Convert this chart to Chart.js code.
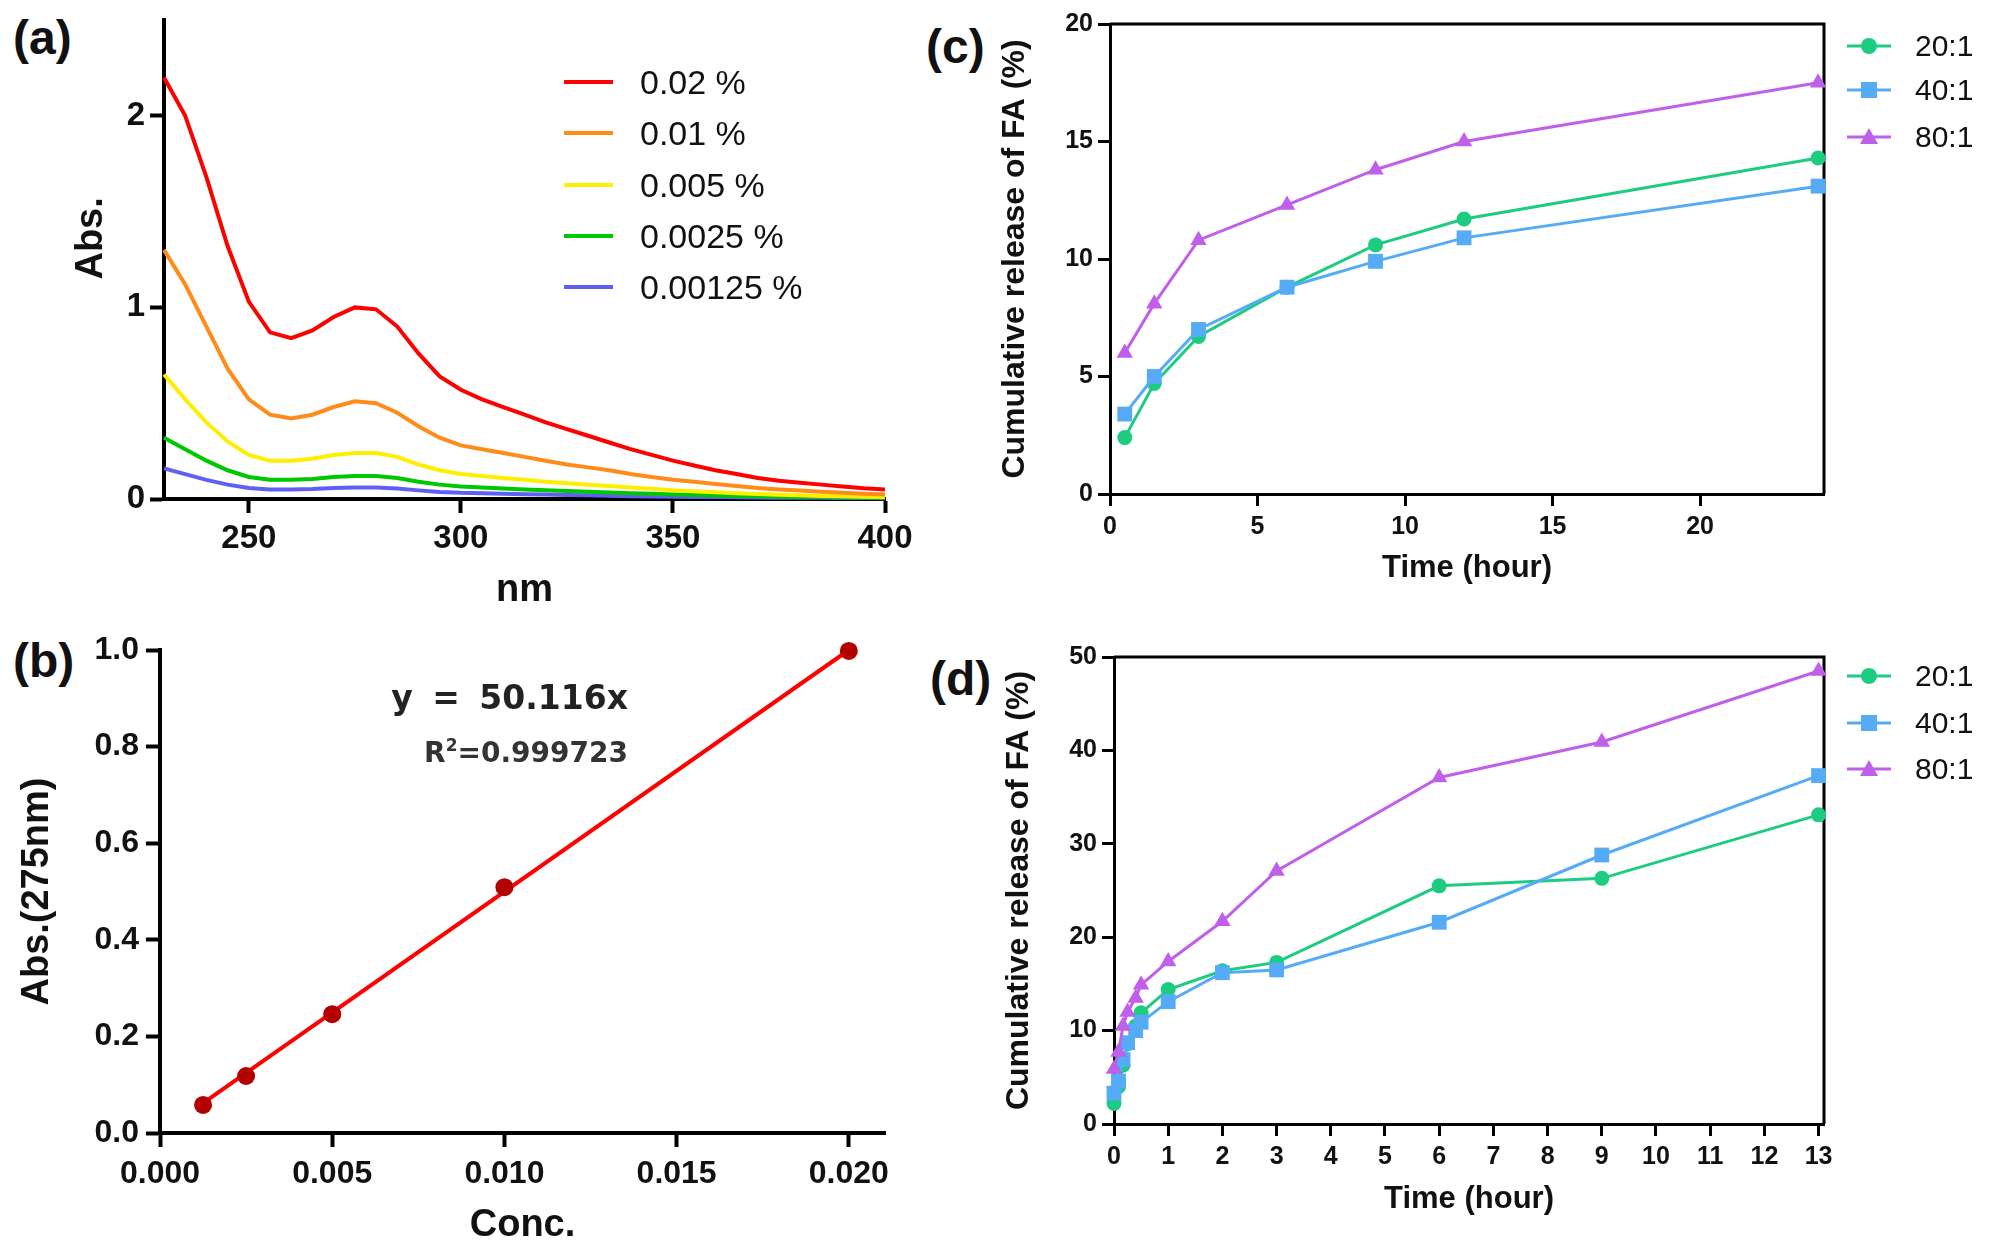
<!DOCTYPE html>
<html>
<head>
<meta charset="utf-8">
<script src="https://cdn.jsdelivr.net/npm/chart.js@4.4.0/dist/chart.umd.min.js"></script>
<style>
  body { margin: 0; width: 1990px; height: 1254px; background: #fff; position: relative; overflow: hidden;
         font-family: "Liberation Sans", Arial, sans-serif; color: #111; }
  canvas { position: absolute; }
  .panel { position: absolute; font-size: 48px; font-weight: bold; line-height: 1; }
  .eq { position: absolute; font-family: "DejaVu Sans", Verdana, sans-serif; font-weight: bold; line-height: 1; white-space: nowrap; }
  .leg { position: absolute; display: flex; align-items: center; white-space: nowrap; }
</style>
</head>
<body>
<div class="panel" style="left:13px;top:14px">(a)</div>
<div class="panel" style="left:13px;top:637px">(b)</div>
<div class="panel" style="left:926px;top:23px">(c)</div>
<div class="panel" style="left:930px;top:655px">(d)</div>

<canvas id="chartA" width="851" height="623" style="left:69px;top:-10px"></canvas>
<canvas id="chartB" width="905" height="628" style="left:15px;top:620px"></canvas>
<canvas id="chartC" width="863" height="593" style="left:996px;top:-6px"></canvas>
<canvas id="chartD" width="859" height="591" style="left:1000px;top:627px"></canvas>

<div class="eq" style="right:1362px;top:681px;font-size:33px;word-spacing:8px;color:#222">y = 50.116x</div>
<div class="eq" style="right:1362px;top:737px;font-size:28px;color:#333">R<sup style="font-size:17px;vertical-align:11px">2</sup>=0.999723</div>

<div id="legendA"></div>
<div id="legendC"></div>
<div id="legendD"></div>

<script>
// (a) UV spectra
const wavelengths = [230, 235, 240, 245, 250, 255, 260, 265, 270, 275, 280, 285, 290, 295, 300, 305, 310,
  315, 320, 325, 330, 335, 340, 345, 350, 355, 360, 365, 370, 375, 380, 385, 390, 395, 400];
const abs002 = [2.20, 2.00, 1.68, 1.32, 1.03, 0.87, 0.84, 0.88, 0.95, 1.00, 0.99, 0.90, 0.76, 0.64, 0.57, 0.52, 0.48,
  0.44, 0.40, 0.365, 0.33, 0.295, 0.26, 0.23, 0.20, 0.175, 0.15, 0.13, 0.11, 0.095, 0.085, 0.075, 0.065, 0.056, 0.05];
const abs001 = [1.30, 1.12, 0.90, 0.68, 0.52, 0.44, 0.42, 0.44, 0.48, 0.51, 0.50, 0.45, 0.38, 0.32, 0.28, 0.26, 0.24,
  0.22, 0.20, 0.18, 0.165, 0.15, 0.13, 0.115, 0.10, 0.09, 0.078, 0.068, 0.058, 0.05, 0.044, 0.038, 0.032, 0.027, 0.023];
const abs0005 = [0.65, 0.52, 0.40, 0.30, 0.23, 0.20, 0.20, 0.21, 0.23, 0.24, 0.24, 0.22, 0.18, 0.15, 0.13, 0.12, 0.11,
  0.10, 0.09, 0.082, 0.075, 0.068, 0.06, 0.053, 0.046, 0.04, 0.035, 0.03, 0.026, 0.022, 0.019, 0.016, 0.014, 0.012, 0.01];
const abs00025 = [0.32, 0.26, 0.20, 0.15, 0.115, 0.10, 0.10, 0.105, 0.115, 0.12, 0.12, 0.11, 0.09, 0.075, 0.065, 0.06, 0.055,
  0.05, 0.046, 0.042, 0.038, 0.034, 0.03, 0.027, 0.024, 0.021, 0.018, 0.016, 0.014, 0.012, 0.011, 0.01, 0.009, 0.008, 0.007];
const abs000125 = [0.16, 0.13, 0.10, 0.075, 0.058, 0.05, 0.05, 0.052, 0.057, 0.06, 0.06, 0.055, 0.045, 0.037, 0.032, 0.03, 0.027,
  0.025, 0.023, 0.021, 0.019, 0.017, 0.015, 0.013, 0.012, 0.011, 0.01, 0.009, 0.008, 0.007, 0.006, 0.006, 0.005, 0.005, 0.004];
const spectraLabels = ['0.02 %', '0.01 %', '0.005 %', '0.0025 %', '0.00125 %'];
const spectraColors = ['#ff0000', '#ff8c1a', '#ffee00', '#00c800', '#5f5ff5'];
const spectra = [abs002, abs001, abs0005, abs00025, abs000125];

// (b) standard curve at 275 nm
const concValues = [0.00125, 0.0025, 0.005, 0.01, 0.02];
const absValues = [0.058, 0.118, 0.246, 0.509, 0.998];
const fitConc = [0.00125, 0.02];
const fitAbs = [0.062, 1.0];

// (c) release, 24 h
const timeC = [0.5, 1.5, 3, 6, 9, 12, 24];
const releaseC20 = [2.4, 4.7, 6.7, 8.8, 10.6, 11.7, 14.3];
const releaseC40 = [3.4, 5.0, 7.0, 8.8, 9.9, 10.9, 13.1];
const releaseC80 = [6.0, 8.1, 10.8, 12.3, 13.8, 15.0, 17.5];

// (d) release, 13 h
const timeD = [0, 0.083, 0.167, 0.25, 0.4, 0.5, 1, 2, 3, 6, 9, 13];
const releaseD20 = [2.2, 4.0, 6.3, 8.6, 10.5, 11.9, 14.4, 16.4, 17.3, 25.5, 26.3, 33.1];
const releaseD40 = [3.3, 4.6, 6.9, 8.7, 10.0, 10.9, 13.1, 16.2, 16.5, 21.6, 28.8, 37.3];
const releaseD80 = [5.9, 7.7, 10.5, 12.0, 13.5, 14.9, 17.4, 21.7, 27.1, 37.1, 40.9, 48.5];

const ratioLabels = ['20:1', '40:1', '80:1'];
const ratioColors = ['#1dcc80', '#56abf7', '#bf5fea'];
const ratioStyles = ['circle', 'rect', 'triangle'];
const ratioRadius = [7.5, 10.5, 9.5];

const FONT = '"Liberation Sans", Arial, sans-serif';
Chart.defaults.font.family = FONT;
Chart.defaults.color = '#111';

const toXY = (xs, ys) => xs.map((x, i) => ({ x: x, y: ys[i] }));

function axis(o) {
  const horizontal = o.position === 'bottom';
  return {
    type: 'linear',
    position: o.position,
    min: o.min,
    max: o.max,
    border: { color: '#000', width: o.bw },
    grid: { drawOnChartArea: false, drawTicks: true, tickLength: o.tl, tickWidth: o.bw, tickColor: '#000' },
    ticks: {
      stepSize: o.step, padding: o.pad, color: '#111', autoSkip: false, maxRotation: 0, includeBounds: false,
      font: { size: o.fs, weight: 'bold' },
      callback: o.fmt || (v => v)
    },
    title: { display: true, text: o.title, color: '#111', padding: 0, font: { size: o.ts, weight: 'bold' } },
    afterBuildTicks: s => { s.ticks = s.ticks.filter(t => t.value >= o.first - 1e-9 && t.value <= o.last + 1e-9); },
    afterFit: s => { if (horizontal) s.height = o.size; else s.width = o.size; }
  };
}

function baseOptions(scales) {
  return {
    responsive: false,
    animation: false,
    devicePixelRatio: 1,
    layout: { padding: { top: 30, right: 35, left: 0, bottom: 0 } },
    plugins: { legend: { display: false }, tooltip: { enabled: false } },
    scales: scales
  };
}

// top and right sides of the box in (c) and (d)
const framePlugin = {
  id: 'frame',
  beforeDatasetsDraw(chart) {
    const { ctx, chartArea: a } = chart;
    ctx.save();
    ctx.strokeStyle = '#000';
    ctx.lineWidth = 3;
    ctx.beginPath();
    ctx.moveTo(a.left, a.top);
    ctx.lineTo(a.right, a.top);
    ctx.lineTo(a.right, a.bottom);
    ctx.stroke();
    ctx.restore();
  }
};

// (a)
new Chart(document.getElementById('chartA'), {
  type: 'line',
  data: {
    datasets: spectra.map((arr, i) => ({
      label: spectraLabels[i],
      data: toXY(wavelengths, arr),
      borderColor: spectraColors[i],
      borderWidth: 4,
      pointRadius: 0,
      tension: 0,
      clip: false
    }))
  },
  options: baseOptions({
    x: axis({ position: 'bottom', min: 230, max: 400, step: 50, first: 250, last: 400, bw: 4, tl: 14, pad: 6, fs: 33,
              title: 'nm', ts: 38, size: 114 }),
    y: axis({ position: 'left', min: 0, max: 2.5, step: 1, first: 0, last: 2, bw: 4, tl: 14, pad: 5, fs: 33,
              title: '\u00a0\u00a0\u00a0\u00a0Abs.', ts: 38, size: 95 })
  })
});

// (b)
new Chart(document.getElementById('chartB'), {
  type: 'line',
  data: {
    datasets: [
      { data: toXY(concValues, absValues), showLine: false, pointRadius: 9, pointBackgroundColor: '#b30000',
        pointBorderWidth: 0, order: 0, clip: false },
      { data: toXY(fitConc, fitAbs), borderColor: '#ff0000', borderWidth: 4, pointRadius: 0, order: 1, clip: false }
    ]
  },
  options: baseOptions({
    x: axis({ position: 'bottom', min: 0, max: 0.02105, step: 0.005, first: 0, last: 0.02, bw: 4, tl: 14, pad: 8, fs: 32,
              title: 'Conc.', ts: 38, size: 115, fmt: v => v.toFixed(3) }),
    y: axis({ position: 'left', min: 0, max: 1, step: 0.2, first: 0, last: 1, bw: 4, tl: 14, pad: 7, fs: 32,
              title: 'Abs.(275nm)', ts: 38, size: 145, fmt: v => v.toFixed(1) })
  })
});

function releaseDatasets(xs, series) {
  return series.map((ys, i) => ({
    label: ratioLabels[i],
    data: toXY(xs, ys),
    borderColor: ratioColors[i],
    backgroundColor: ratioColors[i],
    pointBackgroundColor: ratioColors[i],
    pointBorderWidth: 0,
    pointStyle: ratioStyles[i],
    pointRadius: ratioRadius[i],
    borderWidth: 3,
    tension: 0,
    order: 2 - i,
    clip: false
  }));
}

// (c)
new Chart(document.getElementById('chartC'), {
  type: 'line',
  data: { datasets: releaseDatasets(timeC, [releaseC20, releaseC40, releaseC80]) },
  options: baseOptions({
    x: axis({ position: 'bottom', min: 0, max: 24.2, step: 5, first: 0, last: 20, bw: 3, tl: 12, pad: 6, fs: 25,
              title: 'Time (hour)', ts: 31, size: 93 }),
    y: axis({ position: 'left', min: 0, max: 20, step: 5, first: 0, last: 20, bw: 3, tl: 12, pad: 5, fs: 25,
              title: 'Cumulative release of FA (%)', ts: 32, size: 114 })
  }),
  plugins: [framePlugin]
});

// (d)
new Chart(document.getElementById('chartD'), {
  type: 'line',
  data: { datasets: releaseDatasets(timeD, [releaseD20, releaseD40, releaseD80]) },
  options: baseOptions({
    x: axis({ position: 'bottom', min: 0, max: 13.1, step: 1, first: 0, last: 13, bw: 3, tl: 12, pad: 6, fs: 25,
              title: 'Time (hour)', ts: 31, size: 94 }),
    y: axis({ position: 'left', min: 0, max: 50, step: 10, first: 0, last: 50, bw: 3, tl: 12, pad: 5, fs: 25,
              title: 'Cumulative release of FA (%)', ts: 32, size: 114 })
  }),
  plugins: [framePlugin]
});

// legends
const rowsA = [82, 133, 185, 236, 287];
document.getElementById('legendA').innerHTML = spectraLabels.map((lab, i) =>
  `<div class="leg" style="left:564px;top:${rowsA[i] - 22}px;height:44px;font-size:34px">
     <span style="display:inline-block;width:49px;height:4px;background:${spectraColors[i]}"></span>
     <span style="margin-left:27px">${lab}</span></div>`).join('');

function markerSvg(i) {
  const c = ratioColors[i];
  let m;
  if (ratioStyles[i] === 'circle') m = `<circle cx="22" cy="11" r="8" fill="${c}"/>`;
  else if (ratioStyles[i] === 'rect') m = `<rect x="14" y="3" width="16" height="16" fill="${c}"/>`;
  else m = `<polygon points="22,2 31,18 13,18" fill="${c}"/>`;
  return `<svg width="44" height="22"><line x1="0" y1="11" x2="44" y2="11" stroke="${c}" stroke-width="3"/>${m}</svg>`;
}
function ratioLegend(id, rows) {
  document.getElementById(id).innerHTML = ratioLabels.map((lab, i) =>
    `<div class="leg" style="left:1847px;top:${rows[i] - 20}px;height:40px;font-size:30px">
       ${markerSvg(i)}<span style="margin-left:24px">${lab}</span></div>`).join('');
}
ratioLegend('legendC', [46, 90, 137]);
ratioLegend('legendD', [676, 723, 769]);
</script>
</body>
</html>
